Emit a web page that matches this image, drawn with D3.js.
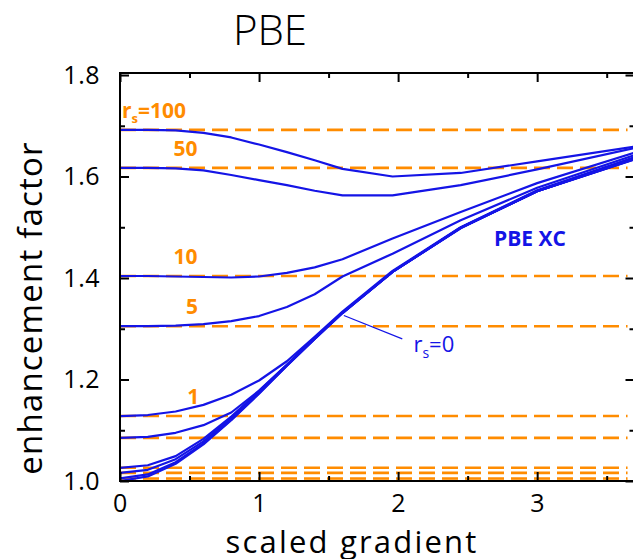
<!DOCTYPE html>
<html>
<head>
<meta charset="utf-8">
<script src="https://cdn.jsdelivr.net/npm/d3@7"></script>
<style>
  body { margin: 0; background: #fff; }
  svg text { font-family: "Open Sans", "DejaVu Sans", sans-serif; }
</style>
</head>
<body>
<svg id="chart" width="633" height="559"></svg>
<script>
// scaled gradient grid
const sGrid = [0, 0.2, 0.4, 0.6, 0.8, 1.0, 1.2, 1.4, 1.6, 1.96, 2.45, 3.0, 3.7];

// enhancement factor per r_s
const rsValues = [100, 50, 10, 5, 1, 0.5, 0.1, 0.05, 0.01, 0];
const fxc100 = [1.692, 1.692, 1.691, 1.686, 1.677, 1.663, 1.648, 1.632, 1.615, 1.600, 1.607, 1.630, 1.659];
const fxc50  = [1.617, 1.617, 1.616, 1.612, 1.603, 1.593, 1.583, 1.572, 1.563, 1.563, 1.583, 1.614, 1.656];
const fxc10  = [1.404, 1.404, 1.403, 1.402, 1.401, 1.403, 1.410, 1.421, 1.437, 1.478, 1.530, 1.587, 1.647];
const fxc5   = [1.305, 1.305, 1.306, 1.309, 1.315, 1.325, 1.343, 1.368, 1.403, 1.448, 1.514, 1.578, 1.642];
const fxc1   = [1.128, 1.130, 1.137, 1.150, 1.170, 1.198, 1.236, 1.284, 1.334, 1.414, 1.500, 1.573, 1.638];
const fxc05  = [1.085, 1.087, 1.095, 1.110, 1.135, 1.178, 1.229, 1.282, 1.332, 1.412, 1.498, 1.571, 1.636];
const fxc01  = [1.026, 1.031, 1.049, 1.083, 1.127, 1.177, 1.229, 1.281, 1.332, 1.412, 1.499, 1.572, 1.635];
const fxc005 = [1.016, 1.022, 1.043, 1.078, 1.124, 1.175, 1.228, 1.281, 1.331, 1.412, 1.499, 1.571, 1.635];
const fxc001 = [1.005, 1.013, 1.037, 1.074, 1.121, 1.173, 1.227, 1.280, 1.331, 1.412, 1.499, 1.571, 1.634];
const fxc0   = [1.000, 1.009, 1.034, 1.072, 1.120, 1.172, 1.227, 1.280, 1.331, 1.412, 1.499, 1.571, 1.634];
const curves = [fxc100, fxc50, fxc10, fxc5, fxc1, fxc05, fxc01, fxc005, fxc001, fxc0];

// uniform-gas (s = 0) levels drawn as dashed lines
const ldaLevels = [1.692, 1.617, 1.404, 1.305, 1.128, 1.085, 1.026, 1.016, 1.005, 1.0];

// orange labels on the left
const levelLabels = [
  { text: "100", v: 1.692, s: 0.0, prefix: true },
  { text: "50", v: 1.617, s: 0.37 },
  { text: "10", v: 1.404, s: 0.37 },
  { text: "5", v: 1.305, s: 0.46 },
  { text: "1", v: 1.128, s: 0.47 }
];

const xTicks = [0, 1, 2, 3];
const yTicks = [1.0, 1.2, 1.4, 1.6, 1.8];

const W = 633, H = 559;
const xMax = 3.7, yMin = 1.0, yMax = 1.804;
const blue = "#1414e6", orange = "#ff8c00";

const svg = d3.select("#chart");
const x = d3.scaleLinear().domain([0, xMax]).range([120, 634.5]);
const y = d3.scaleLinear().domain([yMin, yMax]).range([481, 73]);

svg.append("defs").append("clipPath").attr("id", "plot-clip")
  .append("rect")
  .attr("x", x(0)).attr("y", y(yMax))
  .attr("width", x(xMax) - x(0)).attr("height", y(yMin) - y(yMax));

const plot = svg.append("g").attr("clip-path", "url(#plot-clip)");

// dashed LDA levels
plot.selectAll(".lda")
  .data(ldaLevels).enter().append("line")
  .attr("class", "lda")
  .attr("x1", x(0)).attr("x2", x(3.65))
  .attr("y1", d => y(d)).attr("y2", d => y(d))
  .attr("stroke", orange).attr("stroke-width", 2.6)
  .attr("stroke-dasharray", "16,7");

// PBE xc curves
const line = d3.line()
  .x((d, i) => x(sGrid[i]))
  .y(d => y(d));

plot.selectAll(".curve")
  .data(curves).enter().append("path")
  .attr("class", "curve")
  .attr("d", line)
  .attr("fill", "none")
  .attr("stroke", blue)
  .attr("stroke-width", 2.2)
  .attr("stroke-linejoin", "round");

// frame
svg.append("rect")
  .attr("x", x(0)).attr("y", y(yMax))
  .attr("width", x(xMax) - x(0)).attr("height", y(yMin) - y(yMax))
  .attr("fill", "none").attr("stroke", "#000").attr("stroke-width", 2);

// ticks (inward on all four sides)
const xAxisB = d3.axisBottom(x).tickValues(xTicks).tickSize(-9).tickPadding(13).tickFormat(d3.format("d"));
const xAxisT = d3.axisTop(x).tickValues(xTicks).tickSize(-9).tickFormat("");
const yAxisL = d3.axisLeft(y).tickValues(yTicks).tickSize(-9).tickPadding(20).tickFormat(d3.format(".1f"));
const yAxisR = d3.axisRight(y).tickValues(yTicks).tickSize(-9).tickFormat("");

const xMinor = d3.range(0.5, xMax, 1);
const yMinor = d3.range(1.1, 1.8, 0.2);

function styleAxis(g) {
  g.select(".domain").remove();
  g.selectAll("line").attr("stroke", "#000").attr("stroke-width", 2);
  g.selectAll("text").attr("font-size", 25).attr("fill", "#000").attr("letter-spacing", 0.5);
}

svg.append("g").attr("transform", `translate(0,${y(yMin)})`).call(xAxisB).call(styleAxis);
svg.append("g").attr("transform", `translate(0,${y(yMax)})`).call(xAxisT).call(styleAxis);
svg.append("g").attr("transform", `translate(${x(0)},0)`).call(yAxisL).call(styleAxis);
svg.append("g").attr("transform", `translate(${x(xMax)},0)`).call(yAxisR).call(styleAxis);

svg.append("g").attr("transform", `translate(0,${y(yMin)})`)
  .call(d3.axisBottom(x).tickValues(xMinor).tickSize(-5).tickFormat("")).call(styleAxis);
svg.append("g").attr("transform", `translate(0,${y(yMax)})`)
  .call(d3.axisTop(x).tickValues(xMinor).tickSize(-5).tickFormat("")).call(styleAxis);
svg.append("g").attr("transform", `translate(${x(0)},0)`)
  .call(d3.axisLeft(y).tickValues(yMinor).tickSize(-5).tickFormat("")).call(styleAxis);
svg.append("g").attr("transform", `translate(${x(xMax)},0)`)
  .call(d3.axisRight(y).tickValues(yMinor).tickSize(-5).tickFormat("")).call(styleAxis);

// orange r_s labels
levelLabels.forEach(l => {
  const t = svg.append("text")
    .attr("x", x(l.s) + 2).attr("y", y(l.v) - 12)
    .attr("font-family", "Liberation Sans, Arial, sans-serif")
    .attr("font-weight", "bold").attr("font-size", 21)
    .attr("fill", orange);
  if (l.prefix) {
    t.append("tspan").text("r");
    t.append("tspan").attr("font-size", 13).attr("dy", 5).text("s");
    t.append("tspan").attr("dy", -5).text("=" + l.text);
  } else {
    t.text(l.text);
  }
});

// PBE XC label
svg.append("text")
  .attr("x", x(2.69)).attr("y", y(1.464))
  .attr("font-family", "Liberation Sans, Arial, sans-serif")
  .attr("font-weight", "bold").attr("font-size", 21)
  .attr("fill", blue).text("PBE XC");

// r_s = 0 pointer
svg.append("line")
  .attr("x1", x(1.61)).attr("y1", y(1.326))
  .attr("x2", x(2.03)).attr("y2", y(1.280))
  .attr("stroke", blue).attr("stroke-width", 1.2);

const rs0 = svg.append("text")
  .attr("x", x(2.11)).attr("y", y(1.254))
  .attr("font-family", "Liberation Sans, Arial, sans-serif")
  .attr("font-size", 22).attr("fill", blue);
rs0.append("tspan").text("r");
rs0.append("tspan").attr("font-size", 14).attr("dy", 6).text("s");
rs0.append("tspan").attr("dy", -6).text("=0");

// titles
svg.append("text")
  .attr("x", 270).attr("y", 45)
  .attr("text-anchor", "middle")
  .attr("font-size", 42).attr("font-weight", 300)
  .attr("fill", "#000").text("PBE");

svg.append("text")
  .attr("x", 352).attr("y", 553)
  .attr("text-anchor", "middle")
  .attr("font-size", 31).attr("letter-spacing", 2.2)
  .attr("fill", "#000").text("scaled gradient");

svg.append("text")
  .attr("transform", "translate(42,308) rotate(-90)")
  .attr("text-anchor", "middle")
  .attr("font-size", 33).attr("letter-spacing", 1.2)
  .attr("fill", "#000").text("enhancement factor");
</script>
</body>
</html>
